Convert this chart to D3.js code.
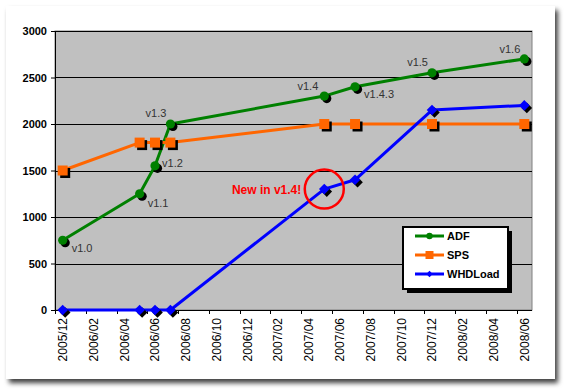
<!DOCTYPE html>
<html>
<head>
<meta charset="utf-8">
<script src="https://cdn.jsdelivr.net/npm/d3@7"></script>
<style>
  html, body { margin: 0; padding: 0; background: #fff; }
  text { font-family: "Liberation Sans", Arial, sans-serif; }
</style>
</head>
<body>
<div id="chart"></div>
<script>
// month categories on the x axis (Excel date axis, base unit = month)
const months = [
  '2005/12', '2006/01', '2006/02', '2006/03', '2006/04', '2006/05', '2006/06',
  '2006/07', '2006/08', '2006/09', '2006/10', '2006/11', '2006/12', '2007/01',
  '2007/02', '2007/03', '2007/04', '2007/05', '2007/06', '2007/07', '2007/08',
  '2007/09', '2007/10', '2007/11', '2007/12', '2008/01', '2008/02', '2008/03',
  '2008/04', '2008/05', '2008/06'
]
const tickLabels = [
  '2005/12', '2006/02', '2006/04', '2006/06', '2006/08', '2006/10', '2006/12',
  '2007/02', '2007/04', '2007/06', '2007/08', '2007/10', '2007/12', '2008/02',
  '2008/04', '2008/06'
]
const yTicks = [0, 500, 1000, 1500, 2000, 2500, 3000]

// releases
const releaseMonths = ['2005/12', '2006/05', '2006/06', '2006/07', '2007/05', '2007/07', '2007/12', '2008/06']
const adfVersions = ['v1.0', 'v1.1', 'v1.2', 'v1.3', 'v1.4', 'v1.4.3', 'v1.5', 'v1.6']
const adfValues = [750, 1250, 1550, 2000, 2300, 2400, 2550, 2700]
const spsValues = [1500, 1800, 1800, 1800, 2000, 2000, 2000, 2000]
const whdloadValues = [0, 0, 0, 0, 1300, 1400, 2150, 2200]

// where each version label sits relative to its point
const labelPlacement = {
  'v1.0': { dx: 9, dy: 12, anchor: 'start' },
  'v1.1': { dx: 8, dy: 13, anchor: 'start' },
  'v1.2': { dx: 7, dy: 1, anchor: 'start' },
  'v1.3': { dx: -4, dy: -7, anchor: 'end' },
  'v1.4': { dx: -6, dy: -6, anchor: 'end' },
  'v1.4.3': { dx: 9, dy: 11, anchor: 'start' },
  'v1.5': { dx: -4, dy: -7, anchor: 'end' },
  'v1.6': { dx: -4, dy: -6, anchor: 'end' }
}

const W = 568, H = 392
const margin = { top: 31, right: 36, bottom: 82, left: 55 }
const width = W - margin.left - margin.right
const height = H - margin.top - margin.bottom

const svgRoot = d3.select('#chart').append('svg')
  .attr('width', W)
  .attr('height', H)

const defs = svgRoot.append('defs')
defs.append('filter')
  .attr('id', 'cardShadow')
  .attr('x', '-5%').attr('y', '-5%').attr('width', '112%').attr('height', '115%')
  .append('feDropShadow')
  .attr('dx', 3).attr('dy', 4)
  .attr('stdDeviation', 2.6)
  .attr('flood-color', '#000')
  .attr('flood-opacity', 0.75)

// the white card
svgRoot.append('rect')
  .attr('x', 6).attr('y', 6)
  .attr('width', 549).attr('height', 373)
  .attr('fill', '#fff')
  .attr('filter', 'url(#cardShadow)')

const svg = svgRoot.append('g')
  .attr('transform', `translate(${margin.left}, ${margin.top})`)

// scales
const x = d3.scaleBand().domain(months).range([0, width]).padding(0)
const cx = m => x(m) + x.bandwidth() / 2
const y = d3.scaleLinear().domain([0, 3000]).range([height, 0])

// plot area
svg.append('rect')
  .attr('width', width).attr('height', height)
  .attr('fill', '#c0c0c0')
  .attr('stroke', '#808080')
  .attr('stroke-width', 1)

// gridlines
svg.append('g')
  .selectAll('line')
  .data(yTicks)
  .enter()
  .append('line')
  .attr('x1', 0).attr('x2', width)
  .attr('y1', d => Math.round(y(d)) + 0.5)
  .attr('y2', d => Math.round(y(d)) + 0.5)
  .attr('stroke', '#000')
  .attr('stroke-width', 1)

// y axis
const yAxis = d3.axisLeft(y).tickValues(yTicks).tickSize(4).tickPadding(4).tickFormat(d3.format('d'))
const yAxisG = svg.append('g').call(yAxis)
yAxisG.select('.domain').attr('stroke', '#000')
yAxisG.selectAll('text')
  .attr('font-size', '11px')
  .attr('font-weight', 'bold')
  .attr('fill', '#000')
  .style('font-family', '"Liberation Sans", Arial, sans-serif')

// x axis: labels at month centres, tick marks at the left edge of labelled months
const xAxis = d3.axisBottom(x).tickValues(tickLabels).tickSize(0)
const xAxisG = svg.append('g')
  .attr('transform', `translate(0, ${height})`)
  .call(xAxis)
xAxisG.select('.domain').remove()
xAxisG.selectAll('text')
  .attr('transform', 'rotate(-90)')
  .attr('x', -8)
  .attr('y', 0)
  .attr('dy', '0.36em')
  .attr('font-size', '12px')
  .attr('fill', '#000')
  .style('text-anchor', 'end')
  .style('font-family', '"Liberation Sans", Arial, sans-serif')

svg.append('g')
  .selectAll('line')
  .data(tickLabels)
  .enter()
  .append('line')
  .attr('x1', d => Math.round(x(d)) + 0.5)
  .attr('x2', d => Math.round(x(d)) + 0.5)
  .attr('y1', height)
  .attr('y2', height + 4)
  .attr('stroke', '#000')

svg.append('line')
  .attr('x1', 0).attr('x2', width)
  .attr('y1', height + 0.5).attr('y2', height + 0.5)
  .attr('stroke', '#000')

// series
const series = [
  { name: 'ADF', values: adfValues, color: '#008000', marker: 'circle' },
  { name: 'SPS', values: spsValues, color: '#ff6600', marker: 'square' },
  { name: 'WHDLoad', values: whdloadValues, color: '#0000ff', marker: 'diamond' }
]

const markerPath = (type, s) => {
  if (type === 'circle') return d3.symbol(d3.symbolCircle, Math.PI * s * s)()
  if (type === 'square') return `M${-s},${-s}H${s}V${s}H${-s}Z`
  return `M0,${-s}L${s},0L0,${s}L${-s},0Z`
}
const markerSize = { circle: 4.6, square: 5, diamond: 5.3 }

const line = d3.line()
  .x(d => cx(d.month))
  .y(d => y(d.value))

series.forEach(s => {
  const pts = releaseMonths.map((m, i) => ({ month: m, value: s.values[i] }))
  const g = svg.append('g')

  g.append('path')
    .datum(pts)
    .attr('d', line)
    .attr('fill', 'none')
    .attr('stroke', s.color)
    .attr('stroke-width', 3)
    .attr('stroke-linejoin', 'round')

  // marker shadows
  g.selectAll('path.shadow')
    .data(pts)
    .enter()
    .append('path')
    .attr('class', 'shadow')
    .attr('d', markerPath(s.marker, markerSize[s.marker]))
    .attr('transform', d => `translate(${cx(d.month) + 2.5}, ${y(d.value) + 2.5})`)
    .attr('fill', '#000')

  g.selectAll('path.marker')
    .data(pts)
    .enter()
    .append('path')
    .attr('class', 'marker')
    .attr('d', markerPath(s.marker, markerSize[s.marker]))
    .attr('transform', d => `translate(${cx(d.month)}, ${y(d.value)})`)
    .attr('fill', s.color)
})

// version labels on ADF
svg.append('g')
  .selectAll('text')
  .data(adfVersions.map((v, i) => ({ v, month: releaseMonths[i], value: adfValues[i] })))
  .enter()
  .append('text')
  .attr('x', d => cx(d.month) + labelPlacement[d.v].dx)
  .attr('y', d => y(d.value) + labelPlacement[d.v].dy)
  .attr('text-anchor', d => labelPlacement[d.v].anchor)
  .attr('font-size', '11px')
  .attr('fill', '#333')
  .text(d => d.v)

// "New in v1.4!" callout around the WHDLoad point
const newIdx = adfVersions.indexOf('v1.4')
svg.append('circle')
  .attr('cx', cx(releaseMonths[newIdx]))
  .attr('cy', y(whdloadValues[newIdx]))
  .attr('r', 19.5)
  .attr('fill', 'none')
  .attr('stroke', '#ff0000')
  .attr('stroke-width', 2.5)

svg.append('text')
  .attr('x', cx(releaseMonths[newIdx]) - 23)
  .attr('y', y(whdloadValues[newIdx]) + 4.5)
  .attr('text-anchor', 'end')
  .attr('font-size', '12px')
  .attr('font-weight', 'bold')
  .attr('fill', '#ff0000')
  .text('New in v1.4!')

// legend
const legend = svgRoot.append('g').attr('transform', 'translate(403, 227)')
legend.append('rect')
  .attr('x', 4).attr('y', 4)
  .attr('width', 105).attr('height', 62)
  .attr('fill', '#000')
legend.append('rect')
  .attr('x', 0).attr('y', 0)
  .attr('width', 105).attr('height', 62)
  .attr('fill', '#fff')
  .attr('stroke', '#000')
  .attr('stroke-width', 2)

const legendRows = legend.selectAll('g.row')
  .data(series)
  .enter()
  .append('g')
  .attr('class', 'row')
  .attr('transform', (d, i) => `translate(12, ${9 + i * 19})`)

legendRows.append('line')
  .attr('x1', 0).attr('x2', 29)
  .attr('stroke', d => d.color)
  .attr('stroke-width', 3)
legendRows.append('path')
  .attr('d', d => markerPath(d.marker, d.marker === 'square' ? 4 : 3.2))
  .attr('transform', 'translate(14.5, 0)')
  .attr('fill', d => d.color)
legendRows.append('text')
  .attr('x', 32)
  .attr('y', 4)
  .attr('font-size', '11px')
  .attr('font-weight', 'bold')
  .attr('fill', '#000')
  .text(d => d.name)
</script>
</body>
</html>
